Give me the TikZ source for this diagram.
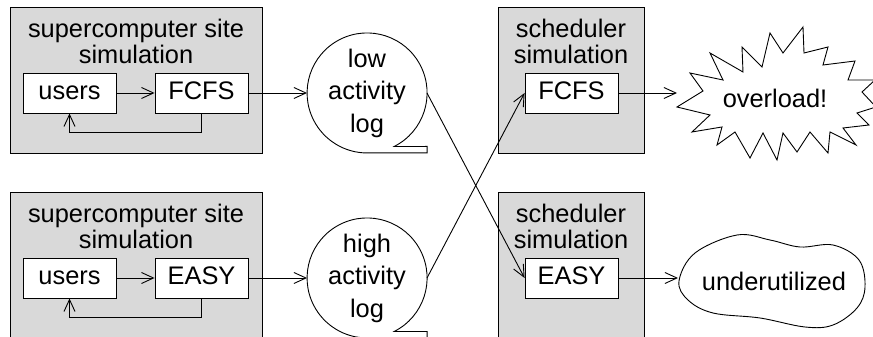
\documentclass[tikz,border=0pt]{standalone}
\usepackage{fontspec}
\setmainfont{Liberation Sans}
\usetikzlibrary{arrows.meta}

\definecolor{boxgray}{gray}{0.85}

\begin{document}
\begin{tikzpicture}[x=1pt, y=1pt, line width=0.9pt, >={Straight Barb[length=12pt,width=11pt]},
    every node/.style={font=\fontsize{25.4}{26.5}\selectfont}]
    \tikzset{simbox/.style={draw, fill=boxgray, inner sep=0pt},
             boxtitle/.style={align=center, inner sep=0pt},
             job/.style={draw, fill=white, minimum width=93, minimum height=40, inner sep=0pt,
                         text height=18.3pt, text depth=5pt},
             logbubble/.style={circle, minimum size=120, inner sep=0pt, outer sep=0pt, align=center,
                               font=\fontsize{25.4}{32.5}\selectfont}}
    \useasboundingbox (0,0) rectangle (873,337);
    \clip (0,0) rectangle (873,337);
    % left: site simulations
    \node[simbox, minimum width=252, minimum height=146] (site1) at (136,257) {};
    \node[simbox, minimum width=252, minimum height=155] (site2) at (136,67.5) {};
    \node[boxtitle] (sitetitle1) at (136,295.5) {supercomputer site\\simulation};
    \node[boxtitle] (sitetitle2) at (136,110.5) {supercomputer site\\simulation};
    \node[job] (users1) at (69.5,244) {users};
    \node[job] (fcfs1) at (201.5,244) {FCFS};
    \node[job] (users2) at (69.5,59) {users};
    \node[job] (easy1) at (201.5,59) {EASY};
    \draw[->] (users1) -- (fcfs1);
    \draw[->] (fcfs1.south) -- ++(0,-19) -| (users1.south);
    \draw[->] (users2) -- (easy1);
    \draw[->] (easy1.south) -- ++(0,-19) -| (users2.south);
    % logs
    \node[logbubble] (lowlog) at (367,244) {low\\activity\\log};
    \node[logbubble] (highlog) at (367,59) {high\\activity\\log};
    \draw (lowlog.-63.1) arc[start angle=-63.1, end angle=270, radius=60] -- ++(60,0) -- ++(0,6.5) -- cycle;
    \draw (highlog.-63.1) arc[start angle=-63.1, end angle=270, radius=60] -- ++(60,0) -- ++(0,6.5) -- cycle;
    \draw[->] (fcfs1) -- (lowlog);
    \draw[->] (easy1) -- (highlog);
    % right: scheduler simulations
    \node[simbox, minimum width=146, minimum height=146] (sched1) at (571,257) {};
    \node[simbox, minimum width=146, minimum height=155] (sched2) at (571,67.5) {};
    \node[boxtitle] (schedtitle1) at (571,295.5) {scheduler\\simulation};
    \node[boxtitle] (schedtitle2) at (571,110.5) {scheduler\\simulation};
    \node[job] (fcfs2) at (571.5,244) {FCFS};
    \node[job] (easy2) at (571.5,59) {EASY};
    \draw[->] (lowlog.east) -- (easy2.west);
    \draw[->] (highlog.east) -- (fcfs2.west);
    % outcomes
    \draw[fill=white] (677,230) -- (703,246) -- (690,264) -- (723,257) -- (710,284) -- (743,265)
        -- (742,290) -- (762,270) -- (770,304) -- (783,284) -- (803,310) -- (804,284)
        -- (828,290) -- (823,272) -- (855,276) -- (848,257) -- (875,257) -- (862,245)
        -- (876,230) -- (857,224) -- (869,212) -- (843,209) -- (856,192) -- (830,205)
        -- (828,184) -- (810,205) -- (797,185) -- (783,204) -- (777,177) -- (763,204)
        -- (750,179) -- (735,205) -- (717,192) -- (722,210) -- (692,205) -- (710,222) -- cycle;
    \node[anchor=base, inner sep=0pt] (overload) at (775,229) {overload!};
    \draw[fill=white] plot[smooth cycle, tension=0.6] coordinates {(679,56) (695,84) (737,102) (770,97)
        (800,90) (833,92) (859,77) (865,50) (857,29) (833,12) (805,10) (760,19) (713,24) (688,37)};
    \node[anchor=base, inner sep=0pt] (underutilized) at (774,46) {underutilized};
    \coordinate (overloadwest) at (677,244);
    \coordinate (underwest) at (678,59);
    \draw[->] (fcfs2) -- (overloadwest);
    \draw[->] (easy2) -- (underwest);
\end{tikzpicture}
\end{document}
